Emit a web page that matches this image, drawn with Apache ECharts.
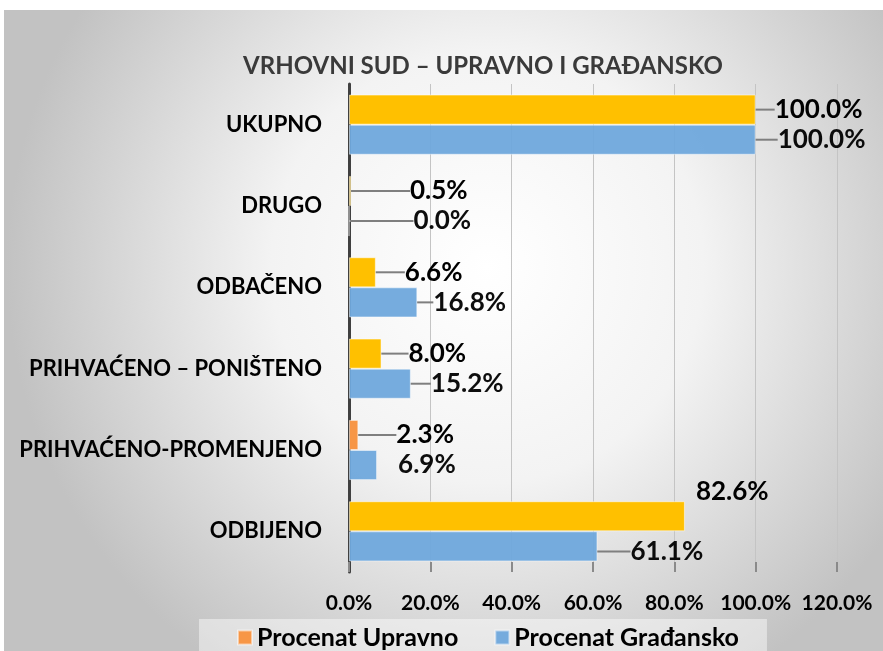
<!DOCTYPE html>
<html>
<head>
<meta charset="utf-8">
<script src="https://cdn.jsdelivr.net/npm/echarts@6/dist/echarts.min.js"></script>
<style>
  html, body { margin: 0; padding: 0; background: #fff; }
  #chart { width: 883px; height: 651px; }
</style>
</head>
<body>
<div id="chart"></div>
<script>
// kategorije odozdo nagore
var categories = ['ODBIJENO', 'PRIHVAĆENO-PROMENJENO', 'PRIHVAĆENO – PONIŠTENO', 'ODBAČENO', 'DRUGO', 'UKUPNO'];
var upravno = [82.6, 2.3, 8.0, 6.6, 0.5, 100.0];
var gradjansko = [61.1, 6.9, 15.2, 16.8, 0.0, 100.0];
var xTicks = [0, 20, 40, 60, 80, 100, 120];

var FONT = 'Lato, "Open Sans", sans-serif';
var yellow = '#FFC000', orange = '#F79646', blue = '#6FA8DC';

// pomeranje labela (dx, dy) po kategoriji; labela ima levi padding 6
var shiftU = [[0, -25], [27, 0], [16, 0], [18, 0], [48, 0], [8, 0]];
var shiftG = [[22, 5], [10, 0], [9, 0], [5, 0], [53, 0], [11, 0]];

var chart = echarts.init(document.getElementById('chart'));

var labelStyle = {
  show: true,
  position: 'right',
  distance: 5,
  padding: [0, 0, 0, 6],
  color: '#000',
  fontFamily: FONT,
  fontWeight: 'bold',
  fontSize: 26,
  formatter: function (p) { return p.value.toFixed(1) + '%'; }
};

var option = {
  animation: false,
  graphic: [{
    type: 'rect',
    z: -10,
    silent: true,
    shape: { x: 4, y: 10, width: 879, height: 641 },
    style: {
      fill: {
        type: 'radial', x: 0.55, y: 0.4, r: 0.75,
        colorStops: [
          { offset: 0, color: '#ffffff' },
          { offset: 0.45, color: '#f3f3f3' },
          { offset: 1, color: '#c2c2c2' }
        ]
      }
    }
  }],
  title: {
    text: 'VRHOVNI SUD – UPRAVNO I GRAĐANSKO',
    left: 478,
    textAlign: 'center',
    top: 49,
    textStyle: {
      fontFamily: FONT,
      fontWeight: 'bold',
      fontSize: 24,
      color: '#3a3a3a'
    }
  },
  legend: {
    data: ['Procenat Upravno', 'Procenat Građansko'],
    left: 199,
    top: 619,
    padding: [6, 28, 10, 38],
    backgroundColor: 'rgba(255,255,255,0.45)',
    icon: 'rect',
    itemWidth: 14,
    itemHeight: 14,
    itemGap: 36,
    textStyle: { fontFamily: FONT, fontWeight: 'bold', fontSize: 25, color: '#000' }
  },
  grid: { left: 349, right: 46, top: 84, bottom: 79 },
  xAxis: {
    type: 'value',
    min: xTicks[0],
    max: xTicks[xTicks.length - 1],
    interval: 20,
    axisLine: { show: false },
    axisTick: { show: true, inside: true, length: 10, lineStyle: { color: '#8a8a8a', width: 2 } },
    splitLine: { show: true, lineStyle: { color: '#c4c4c4', width: 1 } },
    axisLabel: {
      margin: 21,
      fontFamily: FONT,
      fontWeight: 'bold',
      fontSize: 21,
      color: '#000',
      formatter: function (v) { return v.toFixed(1) + '%'; }
    }
  },
  yAxis: {
    type: 'category',
    data: categories,
    axisLine: { show: true, lineStyle: { color: '#404040', width: 3 } },
    axisTick: { show: false },
    axisLabel: {
      margin: 27,
      fontFamily: FONT,
      fontWeight: 'bold',
      fontSize: 22,
      color: '#000'
    }
  },
  series: [
    {
      name: 'Procenat Upravno',
      type: 'bar',
      barGap: '0%',
      barCategoryGap: '26%',
      itemStyle: { color: orange, borderColor: 'rgba(255,255,255,0.5)', borderWidth: 1 },
      data: upravno.map(function (v, i) {
        return {
          value: v,
          itemStyle: { color: i === 1 ? orange : yellow },
          labelLine: { show: i !== 0 }
        };
      }),
      label: labelStyle,
      labelLine: { show: true, lineStyle: { color: '#7f7f7f', width: 2 } },
      labelLayout: function (p) {
        return { dx: shiftU[p.dataIndex][0], dy: shiftU[p.dataIndex][1] };
      }
    },
    {
      name: 'Procenat Građansko',
      type: 'bar',
      barGap: '0%',
      barCategoryGap: '26%',
      itemStyle: { color: blue, borderColor: 'rgba(255,255,255,0.5)', borderWidth: 1, opacity: 0.95 },
      data: gradjansko.map(function (v, i) {
        return { value: v, labelLine: { show: i !== 1 } };
      }),
      label: labelStyle,
      labelLine: { show: true, lineStyle: { color: '#7f7f7f', width: 2 } },
      labelLayout: function (p) {
        return { dx: shiftG[p.dataIndex][0], dy: shiftG[p.dataIndex][1] };
      }
    }
  ]
};

chart.setOption(option);
</script>
</body>
</html>
